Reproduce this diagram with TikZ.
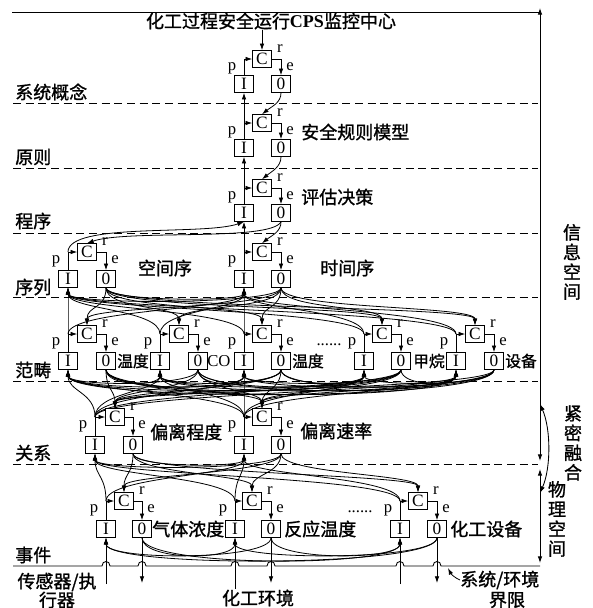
\documentclass[tikz,border=0pt]{standalone}
\usepackage{fontspec}
\setmainfont{Liberation Serif}
\newfontfamily\cjk{Noto Sans CJK SC}[AutoFakeBold=1.2]
\usetikzlibrary{arrows.meta}
\pgfdeclarelayer{bg}
\pgfsetlayers{bg,main}
\newcommand\cpsunit[6]{%
  \node[bx] (#1C) at (#3,#5) {C};
  \node[bx] (#1I) at (#2,#6) {I};
  \node[bx] (#1O) at (#4,#6) {0};
  \node[lab] at ({#2-12},{#5+9}) {p};
  \node[lab] at ({#3+18},{#5-10}) {r};
  \node[lab] at ({#4+9},{#5+8}) {e};
  \begin{pgfonlayer}{bg}
  \draw[arr] (#1I.north) |- (#1C.west);
  \draw[arr] (#1C.east) -| (#1O.north);
  \end{pgfonlayer}
}
\begin{document}
\begin{tikzpicture}[x=0.75pt,y=-0.75pt,
  bx/.style={draw,line width=0.65pt,minimum width=14pt,minimum height=12.5pt,inner sep=0pt,fill=white,font=\fontsize{13}{13}\selectfont},
  lab/.style={inner sep=0pt,font=\fontsize{12.5}{12.5}\selectfont},
  zh/.style={inner sep=0pt,font=\cjk\bfseries\fontsize{13.5}{14}\selectfont},
  zhs/.style={inner sep=0pt,font=\cjk\bfseries\fontsize{11.8}{12}\selectfont},
  zhv/.style={inner sep=0pt,align=center,font=\cjk\bfseries\fontsize{13.5}{14.8}\selectfont},
  arr/.style={line width=0.6pt,-{Latex[length=5pt,width=3.4pt]}},
  dbl/.style={line width=0.65pt,{Latex[length=5pt,width=3.4pt]}-{Latex[length=5pt,width=3.4pt]}},
  ln/.style={line width=0.65pt},
  dsh/.style={line width=0.6pt,dash pattern=on 6pt off 3.5pt}]
\useasboundingbox (0,0) rectangle (593,608);

% frame lines
\foreach \yy in {103,168,233,297,381,464} \draw[dsh] (13,\yy) -- (538,\yy);
\draw[ln] (12,12) -- (540,12);
\draw[dbl] (540,8) -- (540,461);
\draw[dbl] (540,469) -- (540,563);
\draw[dbl] (540,404) .. controls +(11,25) and +(11,-25) .. (540,493);
\draw[ln] (13,566) -- (102,566) .. controls +(0,-6) and +(0,-6) .. (110,566)
  -- (138,566) .. controls +(0,-6) and +(0,-6) .. (146,566)
  -- (231,566) .. controls +(0,-6) and +(0,-6) .. (239,566)
  -- (267,566) .. controls +(0,-6) and +(0,-6) .. (275,566)
  -- (396,566) .. controls +(0,-6) and +(0,-6) .. (404,566)
  -- (433,566) .. controls +(0,-6) and +(0,-6) .. (441,566) -- (540,566);

% units
\cpsunit{a}{244}{262}{281}{59}{84}
\cpsunit{b}{244}{262}{281}{123}{148}
\cpsunit{c}{244}{262}{281}{188}{213}
\cpsunit{s1}{68}{87}{106}{252}{279}
\cpsunit{s2}{244}{262}{281}{252}{279}
\cpsunit{f1}{68}{87}{106}{334}{361}
\cpsunit{f2}{160}{179}{198}{334}{361}
\cpsunit{f3}{244}{262}{281}{334}{361}
\cpsunit{f4}{364}{382}{401}{334}{361}
\cpsunit{f5}{456}{475}{494}{334}{361}
\cpsunit{g1}{95}{115}{133}{417}{445}
\cpsunit{g2}{244}{262}{281}{417}{445}
\cpsunit{h1}{106}{124}{142}{501}{529}
\cpsunit{h2}{235}{252}{271}{501}{529}
\cpsunit{h3}{400}{418}{437}{501}{529}

% texts
\node[zh] (title) at (271,21) {化工过程安全运行{\rmfamily\bfseries CPS}监控中心};
\node[zh,anchor=west] at (15,92) {系统概念};
\node[zh,anchor=west] at (15,157) {原则};
\node[zh,anchor=west] at (15,221) {程序};
\node[zh,anchor=west] at (15,287) {序列};
\node[zh,anchor=west] at (15,370) {范畴};
\node[zh,anchor=west] at (15,453) {关系};
\node[zh,anchor=west] at (15,555) {事件};
\node[zh,anchor=west] at (301,132) {安全规则模型};
\node[zh,anchor=west] at (301,197) {评估决策};
\node[zh] at (165,268) {空间序};
\node[zh,anchor=west] at (320,268) {时间序};
\node[zhs,anchor=west] at (117,361) {温度};
\node[lab,anchor=west] at (207,361) {CO};
\node[zhs,anchor=west] at (292,361) {温度};
\node[zhs,anchor=west] at (413,361) {甲烷};
\node[zhs,anchor=west] at (505,361) {设备};
\node[lab] at (329,345) {......};
\node[zh,anchor=west] at (150,432) {偏离程度};
\node[zh,anchor=west] at (300,431) {偏离速率};
\node[zh,anchor=west] at (152,529) {气体浓度};
\node[zh,anchor=west] at (284,529) {反应温度};
\node[zh,anchor=west] at (450,529) {化工设备};
\node[lab] at (360,512) {......};
\node[zh] at (57,582) {传感器/执};
\node[zh] at (57,600) {行器};
\node[zh] at (258,598) {化工环境};
\node[zh,anchor=west] (sys) at (460,580) {系统/环境};
\node[zh] at (507,600) {界限};
\node[zhv] at (572,262) {信\\息\\空\\间};
\node[zhv] at (573,443) {紧\\密\\融\\合};
\node[zhv] at (557,519) {物\\理\\空\\间};

\coordinate (sx1) at (106,584);
\coordinate (sx2) at (235,589);
\coordinate (sx3) at (400,584);
\coordinate (ax1) at (142,583);
\coordinate (ax2) at (271,583);
\coordinate (ax3) at (437,583);
\coordinate (bnd) at (448,568);

\begin{pgfonlayer}{bg}
\draw[arr] (title.south -| aC.north) -- (aC.north);
\draw[arr] (bI.north) -- (aI.south);
\draw[arr] (cI.north) -- (bI.south);
\draw[arr] (s2I.north) -- (cI.south);
\draw[arr] (aO.south) .. controls +(0,10) and +(10,-8) .. (bC.north);
\draw[arr] (bO.south) .. controls +(0,10) and +(10,-8) .. (cC.north);
% program -> sequence
\draw[arr] (s1I.north |- s1C.west) .. controls +(0,-30) and +(-40,14) .. (cI.south);
\draw[arr] (cO.south) .. controls +(-10,20) and +(40,-14) .. (s1C.north);
\draw[arr] (cO.south) .. controls +(0,10) and +(10,-8) .. (s2C.north);
% sequence peers
\draw[arr] (s1O.south) .. controls +(0,14) and +(0,14) .. (s2I.south);
\draw[arr] (s2O.south) .. controls +(0,17) and +(0,17) .. (s1I.south);
% sequence <-> category
\foreach \hi in {s1,s2}{\foreach \lw in {f1,f2,f3,f4,f5}{
  \draw[arr] (\lw I.north |- \lw C.west) .. controls +(0,-25) and +(0,22) .. (\hi I.south);
  \draw[arr] (\hi O.south) .. controls +(0,22) and +(0,-20) .. (\lw C.north);
}}
% category peers
\foreach \j in {1,...,5}{\foreach \i in {1,...,5}{\ifnum\i=\j\relax\else
  \pgfmathsetmacro\hh{12+5*abs(\i-\j)}
  \draw[arr] (f\j O.south) .. controls +(0,\hh) and +(0,\hh) .. (f\i I.south);
\fi}}
% category <-> relation
\foreach \hi in {f1,f2,f3,f4,f5}{\foreach \lw in {g1,g2}{
  \draw[arr] (\lw I.north |- \lw C.west) .. controls +(0,-25) and +(0,22) .. (\hi I.south);
  \draw[arr] (\hi O.south) .. controls +(0,20) and +(0,-18) .. (\lw C.north);
}}
% relation peers
\draw[arr] (g1O.south) .. controls +(0,14) and +(0,14) .. (g2I.south);
\draw[arr] (g2O.south) .. controls +(0,17) and +(0,17) .. (g1I.south);
% relation <-> event
\foreach \hi in {g1,g2}{\foreach \lw in {h1,h2,h3}{
  \draw[arr] (\lw I.north |- \lw C.west) .. controls +(0,-25) and +(0,22) .. (\hi I.south);
  \draw[arr] (\hi O.south) .. controls +(0,20) and +(0,-18) .. (\lw C.north);
}}
% event peers
\foreach \j in {1,2,3}{\foreach \i in {1,2,3}{\ifnum\i=\j\relax\else
  \pgfmathsetmacro\hh{16+7*abs(\i-\j)}
  \draw[arr] (h\j O.south) .. controls +(0,\hh) and +(0,\hh) .. (h\i I.south);
\fi}}
% sensors / actuators
\draw[arr] (sx1) -- (h1I.south);
\draw[arr] (sx2) -- (h2I.south);
\draw[arr] (sx3) -- (h3I.south);
\draw[arr] (h1O.south) -- (ax1);
\draw[arr] (h2O.south) -- (ax2);
\draw[arr] (h3O.south) -- (ax3);
\draw[arr] (sys.west) .. controls +(-5,-2) and +(3,6) .. (bnd);
\end{pgfonlayer}
\end{tikzpicture}
\end{document}
